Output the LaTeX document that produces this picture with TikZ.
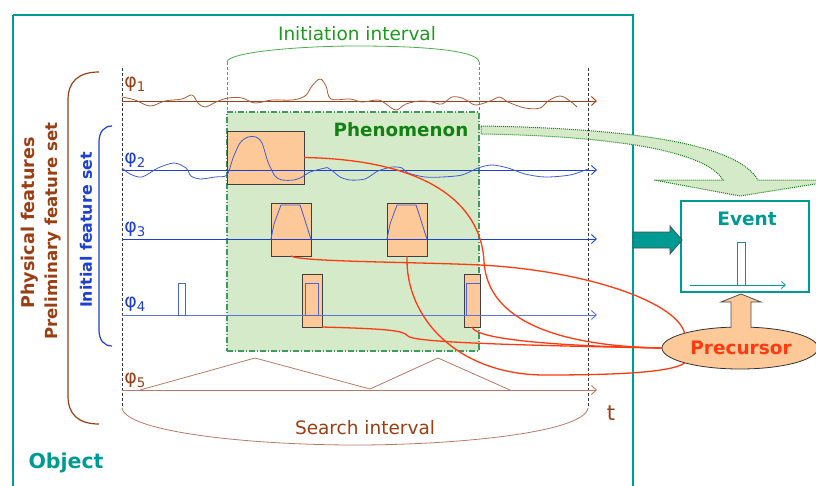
\documentclass[tikz,border=0pt]{standalone}
\usepackage{fontspec}
\setmainfont{DejaVu Sans}
\usetikzlibrary{arrows.meta,shapes.geometric}
\definecolor{teal1}{HTML}{009A94}
\definecolor{brn}{HTML}{9A3E14}
\definecolor{lbrn}{HTML}{B87A66}
\definecolor{blu}{HTML}{1E3FD0}
\definecolor{lblu}{HTML}{5F73E0}
\definecolor{grn}{HTML}{1E9A1E}
\definecolor{dgrn}{HTML}{138013}
\definecolor{pgrn}{HTML}{D5EAC8}
\definecolor{bgrn}{HTML}{3C9A5C}
\definecolor{org}{HTML}{FDC998}
\definecolor{redc}{HTML}{FF3A10}
\tikzset{
  obox/.style={draw=black!75, fill=org, line width=1pt, inner sep=0pt, outer sep=0pt},
  axisline/.style={line width=0.9pt, -{Straight Barb[length=5pt,width=9pt]}},
  sig/.style={line width=0.8pt, line join=round},
  redl/.style={draw=redc, line width=1.3pt},
  vdash/.style={draw=black!80, dashed, dash pattern=on 3pt off 2pt, line width=0.7pt},
  lbl/.style={inner sep=0pt, font=\fontsize{18.5}{20}\selectfont},
  phil/.style={inner sep=0pt, font=\fontsize{19}{20}\selectfont},
}
\begin{document}
\begin{tikzpicture}[x=1pt,y=-1pt]
\useasboundingbox (0,0) rectangle (816,485);
\begin{scope}
\clip (0,0) rectangle (816,485);
% object frame
\draw[teal1, line width=2.6pt] (13,15) -- (633,15) -- (633,495) (13,495) -- (13,15);
\node[font=\bfseries\fontsize{20.5}{22}\selectfont, text=teal1] (obj) at (66,463) {Object};

% green big curved arrow
\draw[dgrn, densely dotted, line width=1pt, fill=pgrn]
  (481,126) .. controls (610,128) and (735,140) .. (758,180) -- (840,180)
  -- (740,196) -- (654,180) -- (723,180)
  .. controls (705,150) and (610,136) .. (481,134) -- cycle;

% phenomenon box
\node[draw=bgrn, fill=pgrn, line width=1.3pt, dash pattern=on 6pt off 2pt on 1pt off 2pt,
  minimum width=252pt, minimum height=239pt, inner sep=0pt, outer sep=0pt] (phen) at (353,231.5) {};
\node[font=\bfseries\fontsize{18.3}{20}\selectfont, text=dgrn] (phentxt) at (401,130) {Phenomenon};

% initiation interval
\draw[grn!80, densely dashed, line width=0.8pt] (227,62) -- (227,112) (479,62) -- (479,112);
\draw[grn!80, line width=0.8pt] (227,62) .. controls (228,52) and (300,46) .. (357,46)
  .. controls (420,46) and (478,50) .. (479,62);
\node[lbl, text=grn] (initi) at (357,34) {Initiation interval};

% search interval
\draw[vdash] (122,68) -- (122,408) (588,68) -- (588,408);
\draw[lbrn, line width=0.8pt] (122,408) .. controls (126,432) and (250,445) .. (355,445)
  .. controls (460,445) and (585,432) .. (588,408);
\node[lbl, text=brn] (srch) at (365,428) {Search interval};
\node[font=\fontsize{21}{22}\selectfont, text=brn] (tlab) at (611,413) {t};

% braces on left
\draw[brn, line width=1.2pt] (99,72) .. controls (78,72) and (68,82) .. (68,100) -- (68,396)
  .. controls (68,414) and (78,424) .. (99,424);
\draw[blu, line width=1.2pt] (112,126) .. controls (104,126) and (99,132) .. (99,142) -- (99,330)
  .. controls (99,340) and (104,346) .. (112,346);
\node[rotate=90, font=\bfseries\fontsize{17.6}{20}\selectfont, text=brn] (phys) at (30,223) {Physical features};
\node[rotate=90, font=\bfseries\fontsize{16.6}{18}\selectfont, text=brn] (prel) at (53,231) {Preliminary feature set};
\node[rotate=90, font=\bfseries\fontsize{15.8}{18}\selectfont, text=blu] (init) at (86,230) {Initial feature set};

% axis labels
\node[phil, text=brn] at (135,84) {φ\textsubscript{1}};
\node[phil, text=blu] at (135,160) {φ\textsubscript{2}};
\node[phil, text=blu] at (135,229) {φ\textsubscript{3}};
\node[phil, text=blu] at (135,304) {φ\textsubscript{4}};
\node[phil, text=brn] at (135,380) {φ\textsubscript{5}};

% orange boxes
\node[obox, minimum width=77pt, minimum height=53pt] (b1) at (265.5,157.5) {};
\node[obox, minimum width=40pt, minimum height=53pt] (b2) at (291,229.5) {};
\node[obox, minimum width=40pt, minimum height=53pt] (b3) at (407,229.5) {};
\node[obox, minimum width=20pt, minimum height=53pt] (b4) at (312,300.5) {};
\node[obox, minimum width=16pt, minimum height=53pt] (b5) at (472,300.5) {};

% axes
\draw[axisline, brn] (122,101) -- (597,101);
\draw[axisline, blu] (122,170) -- (597,170);
\draw[axisline, blu] (122,239) -- (597,239);
\draw[axisline, lblu] (122,315) -- (597,315);
\draw[axisline, lbrn] (122,390) -- (597,390);

% phi1 signal
\draw[sig, brn!85] plot[smooth, tension=0.6] coordinates {(122,97) (135,100) (150,106) (165,101) (182,99) (192,95) (198,103) (205,107) (216,102) (228,98) (242,98) (255,103) (272,100) (292,100) (305,96) (312,86) (320,79) (326,86) (331,99) (350,99) (362,102) (378,100) (386,104) (396,110) (406,104) (420,101) (432,102) (442,104) (452,97) (462,98) (468,101) (476,105) (490,101) (500,97) (508,102) (525,108) (540,108) (548,101) (560,96) (570,101) (577,107)};
% phi2 signal
\draw[sig, blu!85] plot[smooth, tension=0.5] coordinates {(122,168) (130,174) (142,177) (158,168) (174,163) (186,168) (191,176) (200,179) (215,177) (227,175) (233,158) (240,143) (248,137) (256,137) (262,143) (268,162) (275,176) (282,180) (294,180) (302,177) (310,172) (325,168) (328,168) (334,172) (340,177) (350,180) (365,179) (378,171) (392,167) (402,168) (408,173) (425,177) (442,177) (462,175) (478,168) (492,165) (508,168) (525,174) (545,177) (570,175) (588,169)};
% phi3 pulses
\draw[sig, blu!85] (271,239) -- (274,224) -- (281,205) -- (300,205) -- (303,214) -- (308,230) -- (311,239);
\draw[sig, blu!85] (387,239) -- (390,224) -- (397,205) -- (416,205) -- (419,214) -- (424,230) -- (427,239);
% phi4 pulses
\draw[lblu!70!blu, line width=0.8pt] (178,315) rectangle (185,283);
\draw[lblu!70!blu, line width=0.8pt] (305,315) rectangle (318,283);
\draw[lblu!70!blu, line width=0.8pt] (466,315) -- (466,283) -- (480,283);
% phi5 triangles
\draw[sig, lbrn] (140,390) -- (255,358) -- (370,389) -- (438,358) -- (510,390);

% event box
\node[draw=teal1, line width=2.6pt, minimum width=128pt, minimum height=91pt, inner sep=0pt] (ev) at (745,246.5) {};
\node[font=\bfseries\fontsize{18.5}{20}\selectfont, text=teal1] (evt) at (747,219) {Event};
\draw[teal1, line width=0.8pt, -{Straight Barb[length=4pt,width=7pt]}] (690,285) -- (786,285);
\draw[teal1, line width=1pt] (737,285) -- (737,242) -- (745,242) -- (745,285);

% teal block arrow
\draw[draw=black!70, fill=teal1, line width=0.8pt]
  (633,232) -- (670,232) -- (670,226) -- (682,240) -- (670,254) -- (670,248) -- (633,248) -- cycle;

% precursor
\node[ellipse, draw=black!80, fill=org, line width=0.8pt, minimum width=156pt, minimum height=42pt, inner sep=0pt] (prec) at (740,348) {};
\node[font=\bfseries\fontsize{18.5}{20}\selectfont, text=redc] (prect) at (741,348) {Precursor};
% orange up arrow
\draw[draw=black!70, fill=org, line width=0.8pt] (731,328) -- (731,302) -- (721,302) -- (741,294) -- (761,302) -- (751,302) -- (751,328);

% red connectors
\draw[redl] (b1.east) .. controls (440,160) and (482,212) .. (484,262)
  .. controls (488,322) and (560,346) .. (prec.west);
\draw[redl] (b2.south) .. controls (300,262) and (420,262) .. (480,265)
  .. controls (580,270) and (675,300) .. (prec.north west);
\draw[redl] (b3.south) .. controls (405,320) and (460,375) .. (545,375)
  .. controls (610,375) and (670,373) .. (prec.south west);
\draw[redl] (b4.south east) .. controls (395,329) and (403,331) .. (408,336)
  .. controls (413,342) and (500,345) .. (prec.west);
\draw[redl] (b5.south) .. controls (476,340) and (560,346) .. (prec.west);
\end{scope}
\end{tikzpicture}
\end{document}
